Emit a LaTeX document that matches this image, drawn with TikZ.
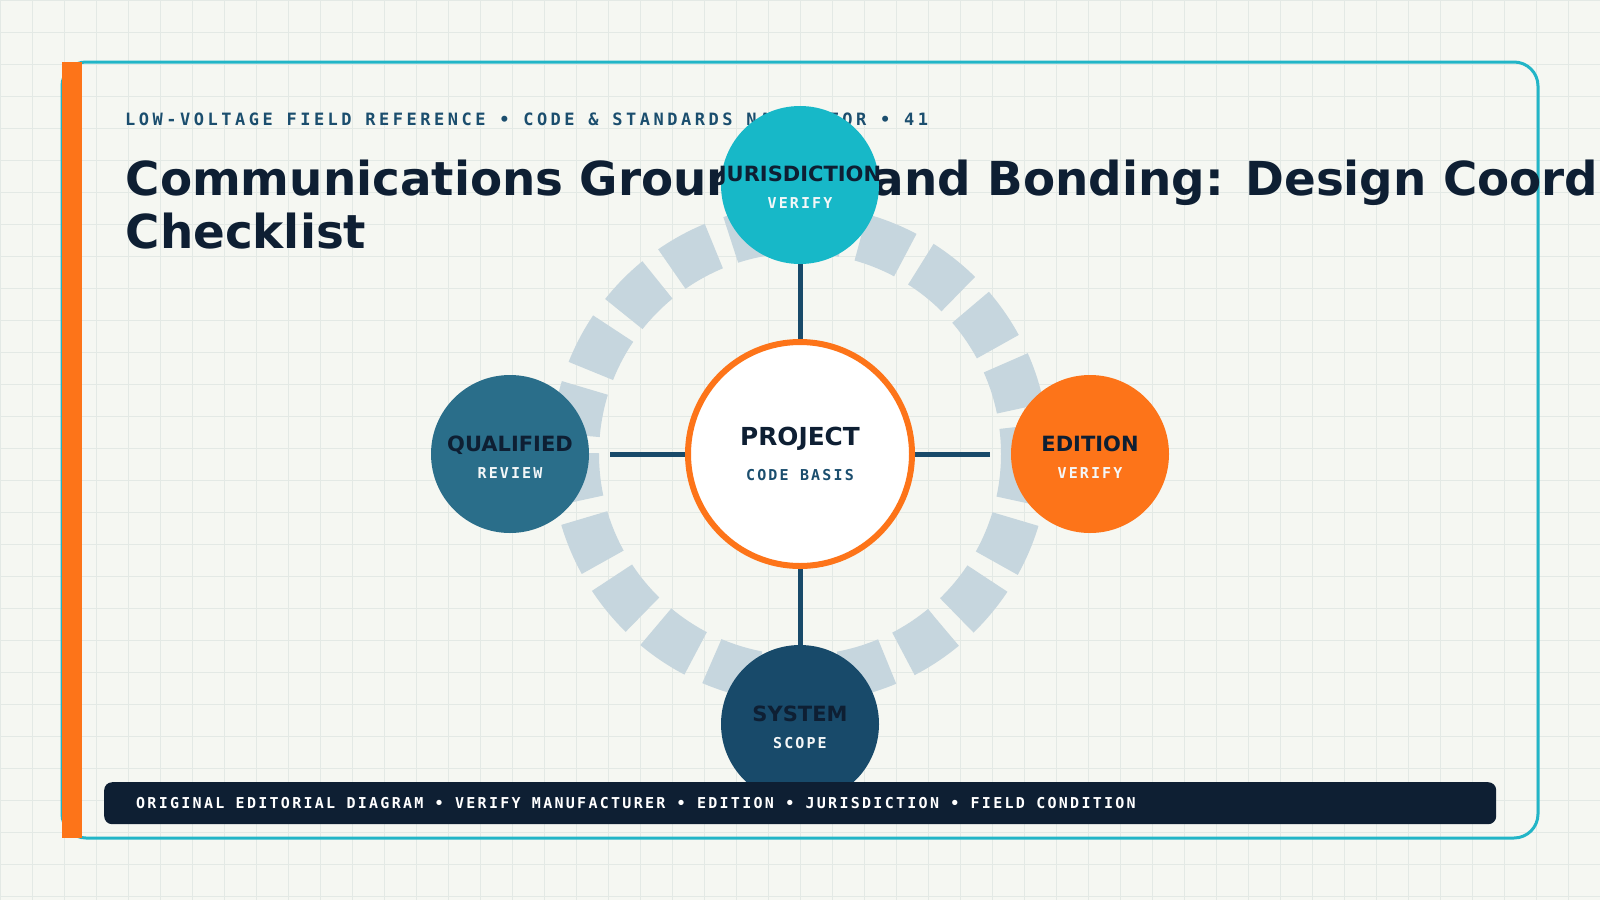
\documentclass[tikz,border=0pt]{standalone}
\usepackage{fontspec}
\setmainfont{DejaVu Sans}
\newfontfamily\monofont{DejaVu Sans Mono}
\definecolor{bgc}{HTML}{F5F7F2}
\definecolor{gridc}{HTML}{E3E9E5}
\definecolor{framec}{HTML}{22B5C7}
\definecolor{cyanc}{HTML}{17B8C8}
\definecolor{orangec}{HTML}{FD7419}
\definecolor{navyc}{HTML}{0E1F33}
\definecolor{hdrc}{HTML}{1B4E6E}
\definecolor{tealc}{HTML}{2A6E8A}
\definecolor{deepc}{HTML}{184A6A}
\definecolor{ringc}{HTML}{C6D6DE}
\definecolor{paleText}{HTML}{F4F7F8}
\tikzset{
  gridline/.style={draw=gridc, line width=1pt},
  sat/.style={circle, inner sep=0pt, minimum size=158pt},
  sattitle/.style={anchor=base, inner sep=0pt, text=navyc, font=\fontsize{21}{25}\selectfont\bfseries},
  satsub/.style={anchor=base, inner sep=0pt, text=paleText, font=\fontsize{15}{18}\monofont\bfseries\addfontfeature{LetterSpace=14}},
  conn/.style={draw=deepc, line width=5pt},
  titletext/.style={anchor=base west, inner sep=0pt, text=navyc, font=\fontsize{46.8}{53}\selectfont\bfseries},
}
\begin{document}
\begin{tikzpicture}[x=1pt,y=-1pt]
\useasboundingbox (0,0) rectangle (1600,900);
\fill[bgc] (0,0) rectangle (1600,900);
\foreach \gx in {0,32,...,1600} \draw[gridline] (\gx,0) -- (\gx,900);
\foreach \gy in {0,32,...,896} \draw[gridline] (0,\gy) -- (1600,\gy);
% frame and bar
\draw[framec, line width=3pt, rounded corners=24pt] (62,62) rectangle (1538,838);
\fill[orangec] (62,62) rectangle (82,838);
% header
\node[anchor=base west, inner sep=0pt, text=hdrc, font=\fontsize{17}{20}\monofont\bfseries\addfontfeature{LetterSpace=20.6}] (hdr) at (125,125) {LOW-VOLTAGE FIELD REFERENCE • CODE \& STANDARDS NAVIGATOR • 41};
% title
\node[titletext] (title1) at (125.5,195) {Communications Grounding and Bonding: Design Coordination};
\node[titletext] (title2) at (125.5,248) {Checklist};
% ring
\draw[ringc, line width=48pt, dash pattern=on 48pt off 18pt] (1025,454) arc[start angle=0, end angle=360, radius=225];
% nodes
\node[sat, fill=cyanc] (jur) at (800,185) {};
\node[sat, fill=tealc] (qual) at (510,454) {};
\node[sat, fill=orangec] (edi) at (1090,454) {};
\node[sat, fill=deepc] (sys) at (800,724) {};
% connectors
\path (800,342) coordinate (cN) (800,566) coordinate (cS) (688,454) coordinate (cW) (912,454) coordinate (cE);
\draw[conn] (cN) -- (jur.south);
\draw[conn] (cS) -- (sys.north);
\draw[conn, shorten >=21pt] (cW) -- (qual.east);
\draw[conn, shorten >=21pt] (cE) -- (edi.west);
\node[circle, draw=orangec, line width=6pt, fill=white, inner sep=0pt, minimum size=224pt] (ctr) at (800,454) {};
% texts
\node[anchor=base, inner sep=0pt, text=navyc, font=\fontsize{24.8}{28}\selectfont\bfseries] (ptitle) at (800,445) {PROJECT};
\node[anchor=base, inner sep=0pt, text=hdrc, font=\fontsize{15}{18}\monofont\bfseries\addfontfeature{LetterSpace=14.7}] (psub) at (800,480) {CODE BASIS};
\node[sattitle] (jurT) at (800,181) {JURISDICTION};
\node[satsub] (jurS) at (800,208) {VERIFY};
\node[sattitle] (qualT) at (510,451) {QUALIFIED};
\node[satsub] (qualS) at (510,478) {REVIEW};
\node[sattitle] (ediT) at (1090,451) {EDITION};
\node[satsub] (ediS) at (1090,478) {VERIFY};
\node[sattitle] (sysT) at (800,721) {SYSTEM};
\node[satsub] (sysS) at (800,748) {SCOPE};
% footer
\node[rectangle, rounded corners=8pt, fill=navyc, inner sep=0pt, minimum width=1392pt, minimum height=42pt, anchor=north west] (foot) at (104,782) {};
\node[anchor=base west, inner sep=0pt, text=white, font=\fontsize{15}{18}\monofont\bfseries\addfontfeature{LetterSpace=15.2}] (footT) at (136,808.5) {ORIGINAL EDITORIAL DIAGRAM • VERIFY MANUFACTURER • EDITION • JURISDICTION • FIELD CONDITION};
\end{tikzpicture}
\end{document}
